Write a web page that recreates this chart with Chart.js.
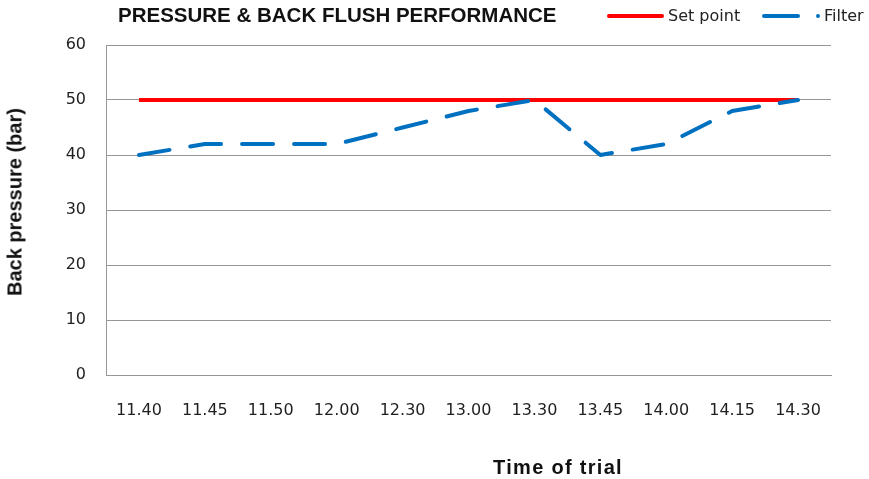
<!DOCTYPE html>
<html>
<head>
<meta charset="utf-8">
<title>Pressure & Back Flush Performance</title>
<script src="https://cdn.jsdelivr.net/npm/chart.js@4/dist/chart.umd.min.js"></script>
<style>
  html, body { margin: 0; padding: 0; background: #fff; }
  #wrap { position: relative; width: 869px; height: 479px; overflow: hidden; }
  #chart { position: absolute; left: 0; top: 0; }
  .txt { position: absolute; white-space: nowrap; color: #111; }
  .title { font: bold 20.5px "Liberation Sans", Arial, sans-serif; left: 118px; top: 3px; }
  .ytitle { font: bold 20px "Liberation Sans", Arial, sans-serif; left: 15px; top: 202px;
            transform: translate(-50%, -50%) rotate(-90deg); }
  .xtitle { font: bold 20px "Liberation Sans", Arial, sans-serif; left: 558px; top: 467px;
            letter-spacing: 1.3px; transform: translate(-50%, -50%); }
  .leg { font: 16px "DejaVu Sans", sans-serif; color: #222; top: 6px; }
  .swatch { position: absolute; height: 4px; border-radius: 2px; top: 14px; }
  .dot { position: absolute; width: 4px; height: 4px; border-radius: 50%; top: 14px; background: #0070c0; }
</style>
</head>
<body>
<div id="wrap">
  <canvas id="chart" width="869" height="479"></canvas>
  <div class="txt title">PRESSURE &amp; BACK FLUSH PERFORMANCE</div>
  <div class="swatch" style="left:607px;width:57px;background:#ff0000;"></div>
  <div class="txt leg" style="left:668px;">Set point</div>
  <div class="swatch" style="left:762px;width:38px;background:#0070c0;"></div>
  <div class="dot" style="left:816px;"></div>
  <div class="txt leg" style="left:824px;">Filter</div>
  <div class="txt ytitle">Back pressure (bar)</div>
  <div class="txt xtitle">Time of trial</div>
</div>
<script>
// ---- Data ----
const times = ['11.40', '11.45', '11.50', '12.00', '12.30', '13.00', '13.30', '13.45', '14.00', '14.15', '14.30'];
const setPoint = [50, 50, 50, 50, 50, 50, 50, 50, 50, 50, 50];
const filter = [40, 42, 42, 42, 45, 48, 50, 40, 42, 48, 50];
const yTicks = [0, 10, 20, 30, 40, 50, 60];

const gridColor = '#969696';
const tickFont = { family: 'DejaVu Sans', size: 16 };

new Chart(document.getElementById('chart'), {
  type: 'line',
  data: {
    labels: times,
    datasets: [
      {
        label: 'Set point',
        data: setPoint,
        borderColor: '#ff0000',
        backgroundColor: '#ff0000',
        borderWidth: 4,
        pointRadius: 0,
        tension: 0,
        order: 2
      },
      {
        label: 'Filter',
        data: filter,
        borderColor: '#0070c0',
        backgroundColor: '#0070c0',
        borderWidth: 4,
        borderDash: [31, 21],
        borderCapStyle: 'round',
        borderJoinStyle: 'round',
        pointRadius: 0,
        tension: 0,
        order: 1
      }
    ]
  },
  options: {
    responsive: false,
    animation: false,
    events: [],
    layout: { padding: { left: 0, right: 38, top: 45, bottom: 0 } },
    plugins: {
      legend: { display: false },
      title: { display: false },
      tooltip: { enabled: false }
    },
    scales: {
      x: {
        offset: true,
        grid: { display: false, drawTicks: false },
        border: { display: true, color: gridColor, width: 1 },
        ticks: { color: '#1f1f1f', font: tickFont, padding: 26, maxRotation: 0, autoSkip: false },
        afterFit: (scale) => { scale.height = 104; }
      },
      y: {
        min: 0,
        max: 60,
        afterBuildTicks: (scale) => { scale.ticks = yTicks.map(v => ({ value: v })); },
        grid: { color: gridColor, lineWidth: 1, drawTicks: false },
        border: { display: true, color: gridColor, width: 1 },
        ticks: { color: '#1f1f1f', font: tickFont, padding: 20 },
        afterFit: (scale) => { scale.width = 106; }
      }
    }
  }
});
</script>
</body>
</html>
